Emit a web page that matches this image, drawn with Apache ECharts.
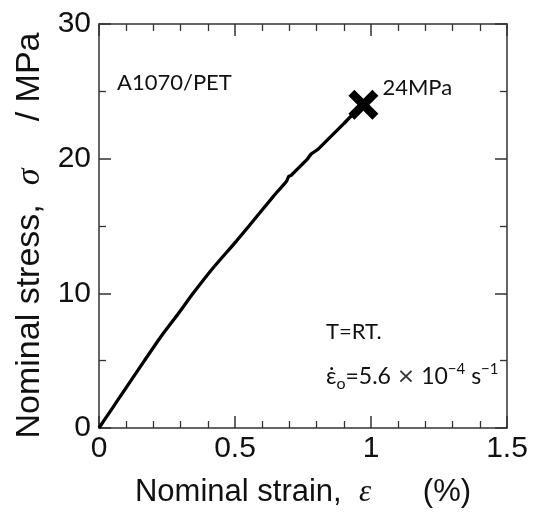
<!DOCTYPE html>
<html><head><meta charset="utf-8">
<script src="https://cdn.jsdelivr.net/npm/echarts@6/dist/echarts.min.js"></script>
<style>html,body{margin:0;padding:0;background:#fff}#c{width:536px;height:513px}</style>
</head><body><div id="c"></div>
<script>
// Nominal strain (%) and nominal stress (MPa)
const strain = [0, 0.05, 0.10, 0.167, 0.23, 0.292, 0.346, 0.42, 0.506, 0.592, 0.641, 0.690, 0.698, 0.706, 0.733, 0.765, 0.780, 0.795, 0.805, 0.850, 0.900, 0.929, 0.955, 0.972];
const stress = [0, 1.5, 3.0, 5.0, 6.85, 8.5, 10.0, 11.9, 13.9, 16.0, 17.2, 18.35, 18.7, 18.75, 19.3, 19.95, 20.35, 20.55, 20.7, 21.6, 22.6, 23.2, 23.65, 24.0];
const fractureStrain = [0.972];
const fractureStress = [24.0];
const fractureLabels = ['24MPa'];
const xRange = [0, 1.5];
const yRange = [0, 30];
const xStep = 0.5;
const yStep = 10;
const materialText = 'A1070/PET';
const tempText = 'T=RT.';

const chart = echarts.init(document.getElementById('c'), null, {renderer: 'canvas'});
const axisColor = '#333';
const lineData = strain.map((s, i) => [s, stress[i]]);
const fractureData = fractureStrain.map((s, i) => [s, fractureStress[i]]);

function xAxisCfg(pos, labels) {
  return {
    type: 'value', position: pos, min: xRange[0], max: xRange[1], interval: xStep,
    axisLine: {onZero: false, lineStyle: {color: axisColor, width: 1.5}},
    axisTick: {inside: true, length: 12, lineStyle: {color: axisColor, width: 1.5}},
    minorTick: {show: true, splitNumber: 5, length: 7, lineStyle: {color: axisColor, width: 1.3}},
    splitLine: {show: false}, minorSplitLine: {show: false},
    axisLabel: labels ? {show: true, fontSize: 30, fontFamily: 'Liberation Sans', color: '#111', margin: 6} : {show: false},
    name: labels ? 'Nominal strain,  {e|ε}      (%)' : '',
    nameLocation: 'middle', nameGap: 49,
    nameTextStyle: {fontSize: 31, fontFamily: 'Liberation Sans', color: '#111',
      rich: {e: {fontSize: 31, fontFamily: 'Liberation Serif', fontStyle: 'italic', color: '#111'}}}
  };
}
function yAxisCfg(pos, labels) {
  return {
    type: 'value', position: pos, min: yRange[0], max: yRange[1], interval: yStep,
    axisLine: {onZero: false, lineStyle: {color: axisColor, width: 1.5}},
    axisTick: {inside: true, length: 12, lineStyle: {color: axisColor, width: 1.5}},
    minorTick: {show: true, splitNumber: 2, length: 7, lineStyle: {color: axisColor, width: 1.3}},
    splitLine: {show: false}, minorSplitLine: {show: false},
    axisLabel: labels ? {show: true, fontSize: 30, fontFamily: 'Liberation Sans', color: '#111', margin: 8} : {show: false},
    name: labels ? 'Nominal stress,  {s|σ}     / MPa' : '',
    nameLocation: 'middle', nameGap: 51,
    nameTextStyle: {fontSize: 34, fontFamily: 'Liberation Sans', color: '#111', padding: [0, 19, 0, 0],
      rich: {s: {fontSize: 34, fontFamily: 'Liberation Serif', fontStyle: 'italic', color: '#111'}}}
  };
}

const ann = {fontFamily: 'Lato', fontSize: 22, fill: '#111'};
chart.setOption({
  animation: false,
  backgroundColor: '#fff',
  grid: {left: 99, right: 29, top: 24, bottom: 81, containLabel: false},
  xAxis: [xAxisCfg('bottom', true), xAxisCfg('top', false)],
  yAxis: [yAxisCfg('left', true), yAxisCfg('right', false)],
  series: [
    {type: 'line', data: lineData, showSymbol: false, symbol: 'none', smooth: 0.2,
     lineStyle: {color: '#000', width: 3.3}, xAxisIndex: 0, yAxisIndex: 0, z: 3},
    {type: 'scatter', data: fractureData, xAxisIndex: 0, yAxisIndex: 0, z: 4,
     symbol: 'path://M0,2 L2,0 L5,3 L8,0 L10,2 L7,5 L10,8 L8,10 L5,7 L2,10 L0,8 L3,5 Z',
     symbolSize: 30, itemStyle: {color: '#000', opacity: 1},
     label: {show: true, position: 'right', distance: 4, offset: [0, -17],
       formatter: (p) => fractureLabels[p.dataIndex], fontFamily: 'Lato', fontSize: 22, color: '#111'}}
  ],
  graphic: [
    {type: 'text', left: 117, top: 72, style: Object.assign({text: materialText}, ann)},
    {type: 'text', left: 326, top: 321, style: Object.assign({text: tempText}, ann)},
    {type: 'text', left: 326, top: 362, style: {
      text: '{b|ε̇}{sub|o}{b|=5.6 }{x|×}{b| 10}{sup|−4}{b| s}{sup|−1}',
      rich: {
        b: {fontFamily: 'Lato', fontSize: 23, fill: '#111', lineHeight: 30, verticalAlign: 'middle'},
        sub: {fontFamily: 'Lato', fontSize: 16, fill: '#111', lineHeight: 22, verticalAlign: 'bottom'},
        sup: {fontFamily: 'Lato', fontSize: 15, fill: '#111', lineHeight: 20, verticalAlign: 'top'},
        x: {fontFamily: 'DejaVu Sans', fontSize: 22, fill: '#333', lineHeight: 30, verticalAlign: 'middle'}
      }
    }}
  ]
});
</script></body></html>
